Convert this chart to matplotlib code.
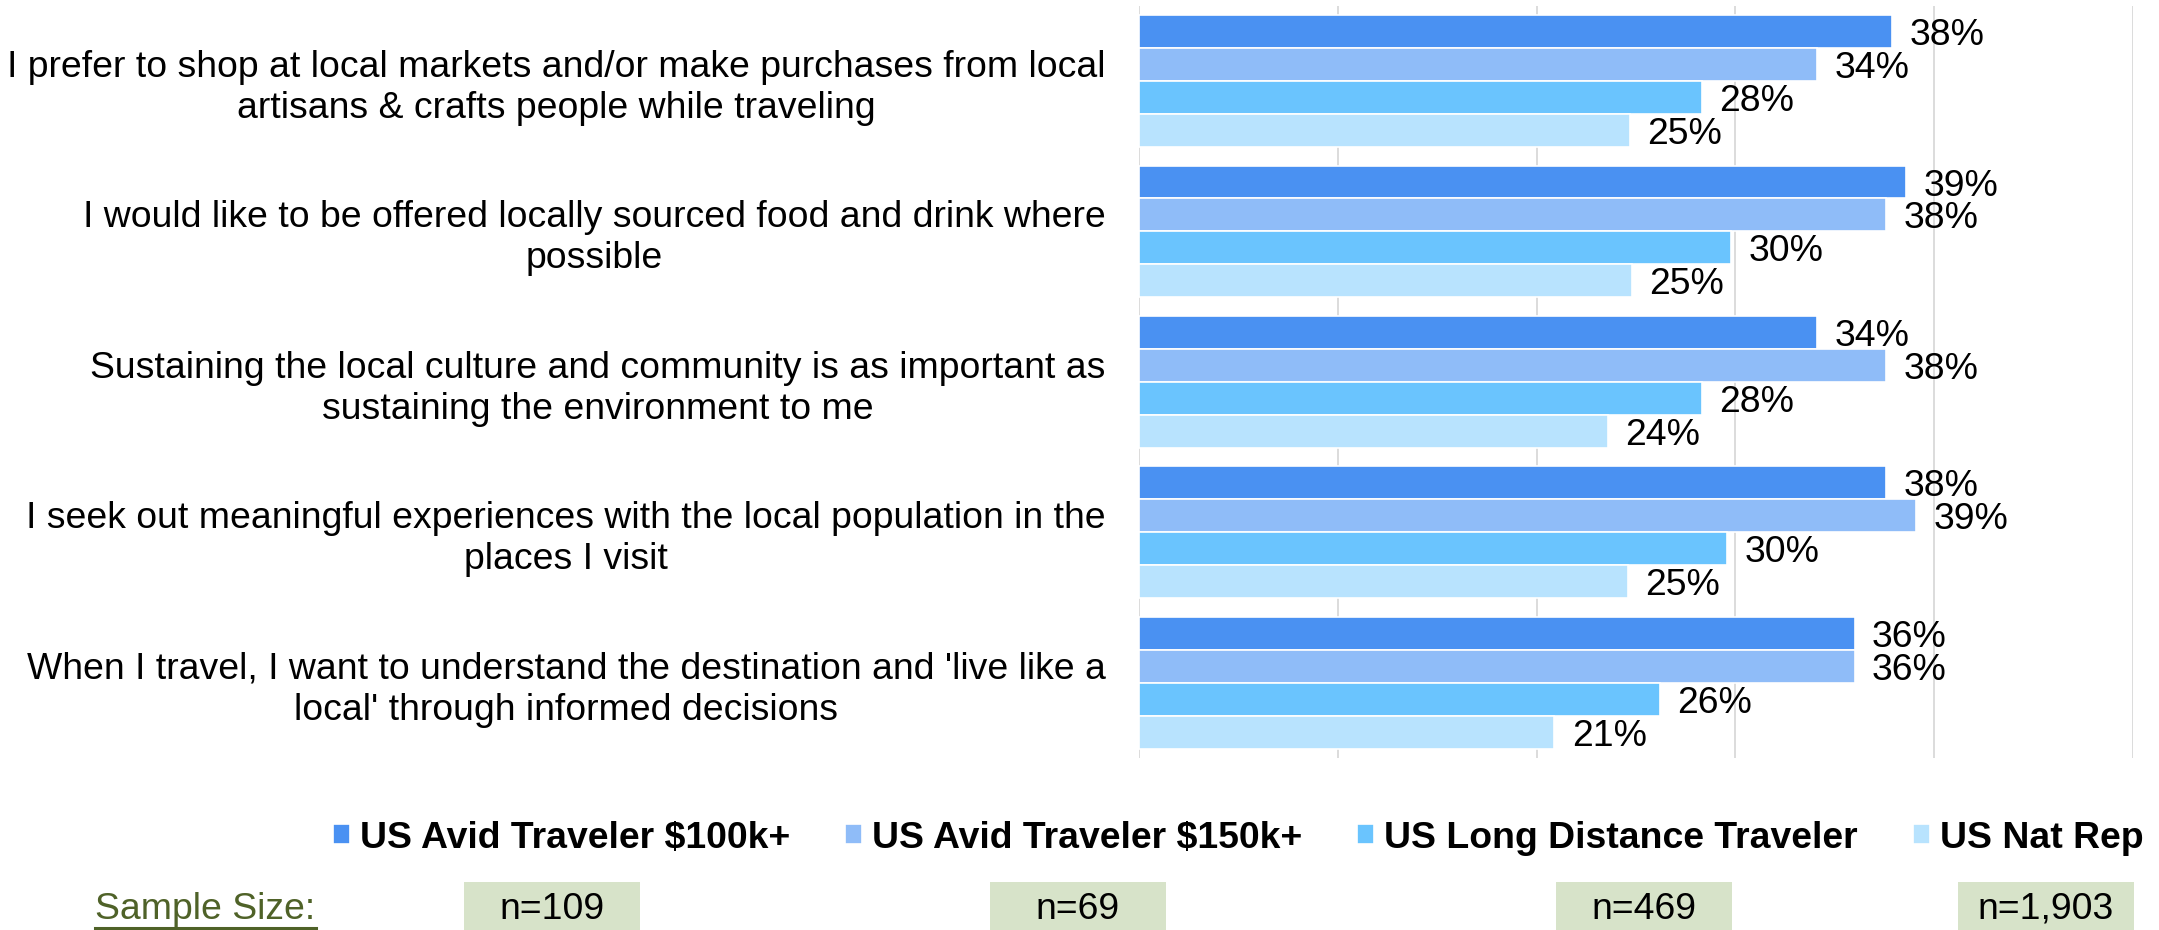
import matplotlib
matplotlib.use("Agg")
import matplotlib.pyplot as plt
from matplotlib.patches import Rectangle
from matplotlib.lines import Line2D
import numpy as np

plt.rcParams['font.family'] = ['Liberation Sans', 'DejaVu Sans']

categories = [
    "I prefer to shop at local markets and/or make purchases from local\nartisans & crafts people while traveling",
    "I would like to be offered locally sourced food and drink where\npossible",
    "Sustaining the local culture and community is as important as\nsustaining the environment to me",
    "I seek out meaningful experiences with the local population in the\nplaces I visit",
    "When I travel, I want to understand the destination and 'live like a\nlocal' through informed decisions",
]
series_names = ["US Avid Traveler $100k+", "US Avid Traveler $150k+",
                "US Long Distance Traveler", "US Nat Rep"]
avid_100k = [37.9, 38.6, 34.1, 37.6, 36.0]
avid_150k = [34.1, 37.6, 37.6, 39.1, 36.0]
long_distance = [28.3, 29.8, 28.3, 29.6, 26.2]
nat_rep = [24.7, 24.8, 23.6, 24.6, 20.9]
sample_sizes = [109, 69, 469, 1903]

series_values = [avid_100k, avid_150k, long_distance, nat_rep]
colors = ['#4A91F2', '#8FBCF8', '#6AC4FE', '#B8E3FE']

W, H = 2159, 930
fig = plt.figure(figsize=(W / 100, H / 100), dpi=100)
ax = fig.add_axes([1139 / W, 1 - 758 / H, (2133 - 1139) / W, (758 - 5.75) / H])

FS = 26.95
y = np.arange(len(categories))
bh = 0.219
bars = []
for i, (vals, c, name) in enumerate(zip(series_values, colors, series_names)):
    b = ax.barh(y + (i - 1.5) * bh, vals, height=bh, color=c, edgecolor='white',
                linewidth=1.2, label=name, zorder=3)
    texts = ax.bar_label(b, labels=[f"{v:.0f}%" for v in vals], padding=12.5,
                         fontsize=FS, color='black')
    for t in texts:
        t.set_va('center_baseline')
    bars.append(b)

ax.set_xlim(0, 50)
ax.set_ylim(len(categories) - 0.5, -0.5)
ax.set_xticks(np.arange(0, 51, 10))
ax.xaxis.grid(True, color='#D9D9D9', linewidth=1.3, zorder=0)
ax.set_axisbelow(True)
ax.tick_params(axis='x', length=0, labelbottom=False)
ax.set_yticks(y)
ax.set_yticklabels(categories, fontsize=FS, linespacing=1.22, multialignment='center')
ax.tick_params(axis='y', length=0, pad=24)
for s in ax.spines.values():
    s.set_visible(False)

# legend
leg = fig.legend(handles=bars, labels=series_names, ncol=4, frameon=False,
                 loc='center left', bbox_to_anchor=(333 / W, 1 - 838 / H),
                 borderpad=0, borderaxespad=0, handlelength=0.45, handleheight=0.45,
                 handletextpad=0.27, columnspacing=1.47,
                 prop={'family': 'Liberation Sans', 'weight': 'bold', 'size': FS})

# sample size row
fig.text(95 / W, 1 - 909 / H, "Sample Size:", fontsize=FS, color='#4F6228',
         ha='left', va='center')
fig.add_artist(Line2D([95 / W, 316 / W], [1 - 928 / H, 1 - 928 / H],
                      color='#4F6228', linewidth=2.2))
box_left = [464, 990, 1556, 1958]
for n, xl in zip(sample_sizes, box_left):
    fig.add_artist(Rectangle((xl / W, 0), 176 / W, (930 - 882) / H,
                             facecolor='#D7E3C9', edgecolor='none',
                             transform=fig.transFigure))
    fig.text((xl + 88) / W, 1 - 909 / H, f"n={n:,}", fontsize=FS, color='black',
             ha='center', va='center')

fig.savefig("out.png", dpi=100)
